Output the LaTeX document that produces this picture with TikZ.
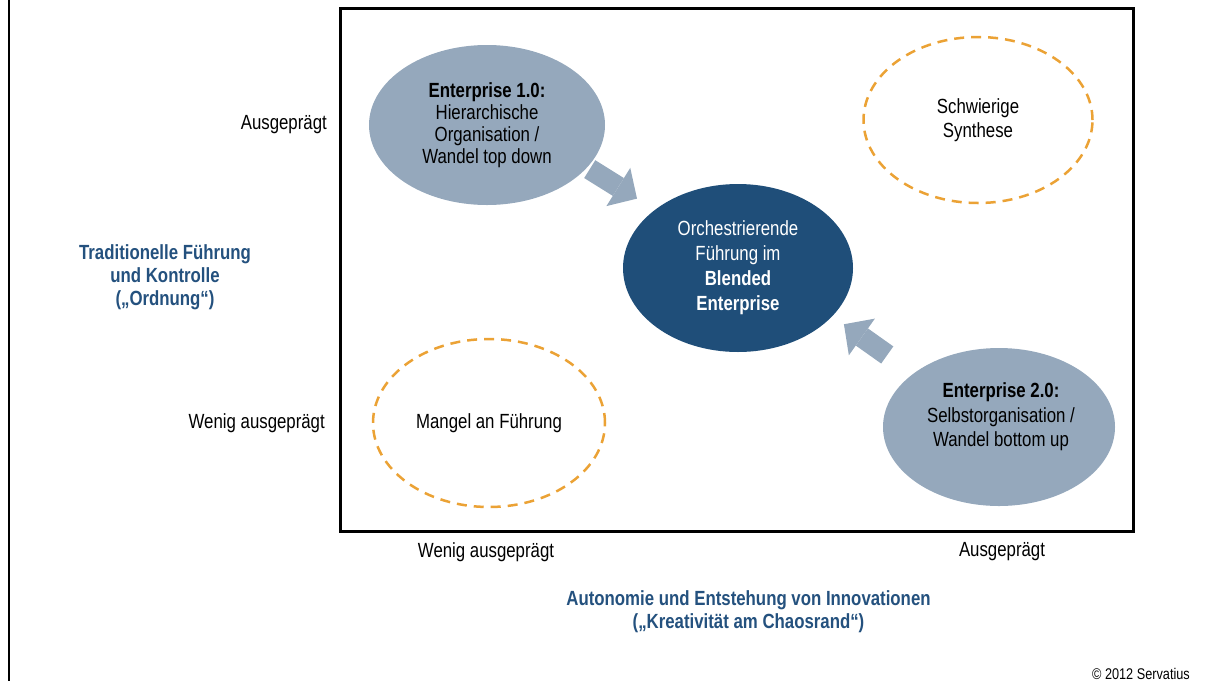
\documentclass[tikz,border=0pt]{standalone}
\usepackage{fontspec}
\setmainfont{Liberation Sans}[FakeStretch=0.82]
\usetikzlibrary{shapes.geometric,arrows.meta}
\definecolor{slate}{HTML}{95A8BC}
\definecolor{navy}{HTML}{1F4E79}
\definecolor{amber}{HTML}{EBA235}
\definecolor{headblue}{HTML}{24517E}

\begin{document}
\begin{tikzpicture}[x=1pt,y=-1pt,
  lbl/.style={font=\fontsize{20.5}{22}\selectfont, inner sep=0pt},
  head/.style={font=\fontsize{20.5}{23}\selectfont\bfseries, text=headblue, align=center, inner sep=0pt},
  blob/.style={ellipse, inner sep=0pt, align=center},
  solidblob/.style={blob, fill=slate},
  dashblob/.style={blob, draw=amber, line width=2.5pt, dash pattern=on 10pt off 7pt},
  bigarrow/.style={slate, line width=21pt,
    -{Triangle[length=22pt,width=45pt,line width=0pt]}}
]
\useasboundingbox (0,0) rectangle (1208,681);

% frame edge and plot area
\draw[line width=2pt] (9,0) -- (9,681);
\draw[line width=3pt] (340,8) rectangle (1133,531);

% quadrant ellipses
\node[solidblob, minimum width=236pt, minimum height=160pt,
      font=\fontsize{20.5}{22.2}\selectfont] (e1) at (487,125)
  {\textbf{Enterprise 1.0:}\\Hierarchische\\Organisation /\\Wandel top down};
\node[dashblob, minimum width=229pt, minimum height=166pt,
      font=\fontsize{20.5}{24.3}\selectfont] (syn) at (978,120)
  {Schwierige\\Synthese};
\node[blob, fill=navy, text=white, minimum width=230pt, minimum height=168pt,
      font=\fontsize{20.5}{25}\selectfont] (c) at (738,268)
  {Orchestrierende\\Führung im\\\textbf{Blended}\\\textbf{Enterprise}};
\node[dashblob, minimum width=232pt, minimum height=168pt,
      font=\fontsize{20.5}{22}\selectfont] (mangel) at (489,423)
  {Mangel an Führung};
\node[solidblob, minimum width=232pt, minimum height=158pt] (e2) at (999,427) {};
\node[lbl, align=center, font=\fontsize{20.5}{24.5}\selectfont] (e2text) at (1001,417)
  {\textbf{Enterprise 2.0:}\\Selbstorganisation /\\Wandel bottom up};

% movement towards the blended enterprise
\draw[bigarrow, shorten <=3pt, shorten >=21pt] (e1.-23) -- (c.145);
\draw[bigarrow, shorten <=32pt, shorten >=14pt] (e2.148) -- (c.-27);

% axis scale labels
\node[lbl, anchor=base east] (yhigh) at (327,129) {Ausgeprägt};
\node[lbl, anchor=base east] (ylow) at (325,428) {Wenig ausgeprägt};
\node[lbl, anchor=base] (xlow) at (486,557) {Wenig ausgeprägt};
\node[lbl, anchor=base] (xhigh) at (1002,556) {Ausgeprägt};

% axis titles
\node[head] (ytitle) at (165,277)
  {Traditionelle Führung\\und Kontrolle\\(„Ordnung“)};
\node[head] (xtitle) at (748.5,611.5)
  {Autonomie und Entstehung von Innovationen\\(„Kreativität am Chaosrand“)};

% credit
\node[lbl, font=\fontsize{15.5}{17}\selectfont, anchor=base east] (credit) at (1190,679)
  {© 2012 Servatius};
\end{tikzpicture}
\end{document}
